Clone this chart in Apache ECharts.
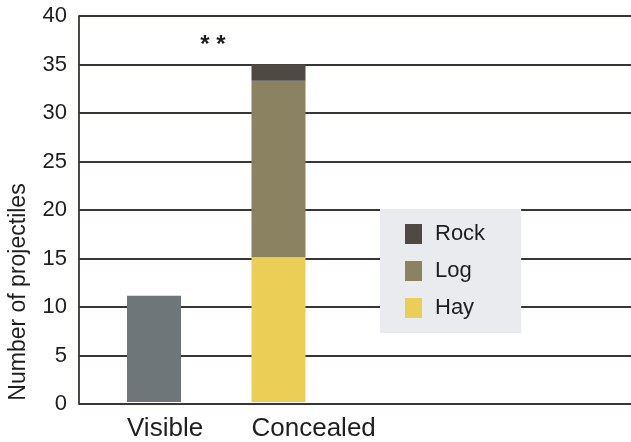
<!DOCTYPE html>
<html>
<head>
<meta charset="utf-8">
<script src="https://cdn.jsdelivr.net/npm/echarts@6/dist/echarts.min.js"></script>
<style>
  html, body { margin: 0; padding: 0; background: #fff; }
  #chart { width: 631px; height: 442px; }
</style>
</head>
<body>
<div id="chart"></div>
<script>
// Projectile counts per condition
const categories = ['Visible', 'Concealed'];
const visibleCounts = [11, '-'];
const hayCounts = ['-', 15];
const logCounts = ['-', 18.3];
const rockCounts = ['-', 1.7];
const legendOrder = ['Rock', 'Log', 'Hay'];
const yTicks = { min: 0, max: 40, interval: 5 };

const FONT = '"Liberation Sans", Arial, Helvetica, sans-serif';
const INK = '#1e1e1e';
const LINE = '#383532';
const BAR_W = 54;

const chart = echarts.init(document.getElementById('chart'), null, { renderer: 'canvas' });

const stackedBar = (name, data, color) => ({
  name, type: 'bar', data, stack: 'total',
  xAxisIndex: 1, yAxisIndex: 1,
  barWidth: BAR_W,
  itemStyle: { color },
  emphasis: { disabled: true }
});

chart.setOption({
  animation: false,
  backgroundColor: '#ffffff',
  textStyle: { fontFamily: FONT },
  grid: [
    // full-width frame that carries the value axis and horizontal rules
    { left: 79, right: 0, top: 16, bottom: 38, containLabel: false },
    // narrower band where the two category bars sit
    { left: 91.75, width: 249, top: 16, bottom: 38, containLabel: false }
  ],
  xAxis: [
    { type: 'category', gridIndex: 0, data: [''], show: false },
    {
      type: 'category', gridIndex: 1, data: categories,
      axisLine: { show: false }, axisTick: { show: false },
      axisLabel: {
        margin: 14,
        formatter: v => '{t|' + v + '}',
        rich: { t: { width: BAR_W, align: 'left', fontSize: 26, color: INK, fontFamily: FONT } }
      }
    }
  ],
  yAxis: [
    {
      type: 'value', gridIndex: 0, ...yTicks,
      axisLine: { show: true, lineStyle: { color: LINE, width: 1.8 } },
      axisTick: { show: false },
      axisLabel: { margin: 12, fontSize: 22, color: INK, fontFamily: FONT },
      splitLine: { show: true, lineStyle: { color: LINE, width: 1.8 } }
    },
    {
      type: 'value', gridIndex: 1, ...yTicks,
      show: false, splitLine: { show: false }
    }
  ],
  legend: {
    data: legendOrder,
    orient: 'vertical',
    left: 380, top: 209,
    backgroundColor: '#e9ebef',
    padding: [14, 36, 14, 25],
    itemWidth: 17, itemHeight: 20, itemGap: 15,
    icon: 'rect',
    selectedMode: false,
    textStyle: { fontSize: 22, lineHeight: 22, color: INK, fontFamily: FONT, padding: [0, 0, 0, 8] }
  },
  graphic: [
    {
      type: 'text', x: 19, y: 292, rotation: Math.PI / 2,
      style: { text: 'Number of projectiles', fontSize: 23, fontFamily: FONT, fill: INK, align: 'center', verticalAlign: 'middle' }
    },
    {
      type: 'text', x: 213, y: 45,
      style: { text: '* *', fontSize: 24, fontWeight: 'bold', fontFamily: FONT, fill: INK, align: 'center', verticalAlign: 'middle' }
    }
  ],
  series: [
    stackedBar('Visible', visibleCounts, '#6e767a'),
    stackedBar('Hay', hayCounts, '#ebce55'),
    stackedBar('Log', logCounts, '#8b8262'),
    stackedBar('Rock', rockCounts, '#4e4a43')
  ]
});
</script>
</body>
</html>
